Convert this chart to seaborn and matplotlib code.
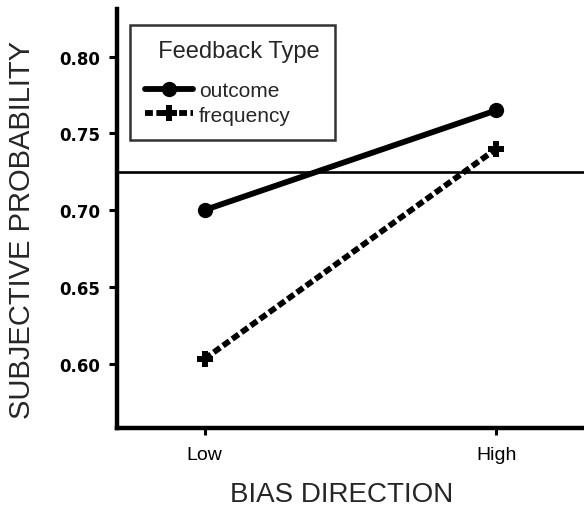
import matplotlib
matplotlib.use("Agg")
import matplotlib.pyplot as plt
import seaborn as sns
import pandas as pd
import numpy as np
from matplotlib.lines import Line2D

bias = ["Low", "High"]
outcome = [0.700, 0.765]
frequency = [0.603, 0.740]
reference_level = 0.725
feedback_types = ["outcome", "frequency"]
yticks = [0.60, 0.65, 0.70, 0.75, 0.80]

df = pd.DataFrame({
    "bias": bias * 2,
    "prob": outcome + frequency,
    "feedback": [feedback_types[0]] * 2 + [feedback_types[1]] * 2,
})

sns.set_theme(style="ticks")
plt.rcParams["font.family"] = ["Liberation Sans", "DejaVu Sans"]

LW = 4.2
DASH = (1.35, 0.6)
MS_O = 11
MS_P = 11

fig = plt.figure(figsize=(5.84, 5.10), dpi=100)
ax = fig.add_axes([0.2003, 0.1588, 0.7997, 0.8216])

sns.pointplot(data=df, x="bias", y="prob", hue="feedback", order=bias,
              hue_order=feedback_types, palette=["black", "black"],
              markers=["o", "P"], linestyles=["-", "--"], ax=ax,
              legend=False, markersize=8)

for line in ax.lines:
    y = np.asarray(line.get_ydata(), dtype=float)
    if len(y) != 2 or np.any(np.isnan(y)):
        continue
    line.set_linewidth(LW)
    line.set_dash_capstyle("butt")
    line.set_solid_capstyle("round")
    line.set_markeredgewidth(0)
    if np.allclose(y, outcome):
        line.set_linestyle("-")
        line.set_markersize(MS_O)
    elif np.allclose(y, frequency):
        line.set_linestyle((0, DASH))
        line.set_markersize(MS_P)

ax.axhline(reference_level, color="black", lw=1.9, zorder=1)

ax.set_xlim(-0.3, 1.3)
ax.set_ylim(0.558, 0.831)
ax.set_yticks(yticks)
ax.set_yticklabels([f"{v:.2f}" for v in yticks], fontsize=12, fontweight="bold",
                   family="DejaVu Sans")
ax.set_xticks([0, 1])
ax.set_xticklabels(bias, fontsize=14)

for s in ["top", "right"]:
    ax.spines[s].set_visible(False)
for s in ["left", "bottom"]:
    ax.spines[s].set_linewidth(3.2)
    ax.spines[s].set_color("black")
ax.tick_params(axis="y", direction="out", length=6, width=2.2, colors="black", pad=6)
ax.tick_params(axis="x", direction="out", length=5, width=2.2, colors="black", pad=8)

ax.set_xlabel("BIAS DIRECTION", fontsize=20, va="center")
ax.xaxis.set_label_coords(0.48, -0.157)
ax.set_ylabel("SUBJECTIVE PROBABILITY", fontsize=21, va="center")
ax.yaxis.set_label_coords(-0.203, 0.475)

handles = [
    Line2D([], [], color="black", lw=LW, marker="o", markersize=MS_O, linestyle="-",
           markeredgewidth=0, solid_capstyle="round"),
    Line2D([], [], color="black", lw=LW, marker="P", markersize=MS_P,
           linestyle=(0, DASH), dash_capstyle="butt", markeredgewidth=0),
]
leg = ax.legend(handles, feedback_types, title="  Feedback Type", loc="upper left",
                bbox_to_anchor=(0.028, 0.962), frameon=True, fancybox=False,
                fontsize=15, title_fontsize=17, handlelength=2.3,
                borderpad=0.72, handletextpad=0.3, labelspacing=0.25,
                borderaxespad=0)
leg.get_frame().set_edgecolor("black")
leg.get_frame().set_linewidth(1.8)
leg._legend_box.align = "left"
leg._legend_box.sep = 14

fig.savefig("out.png", dpi=100)
